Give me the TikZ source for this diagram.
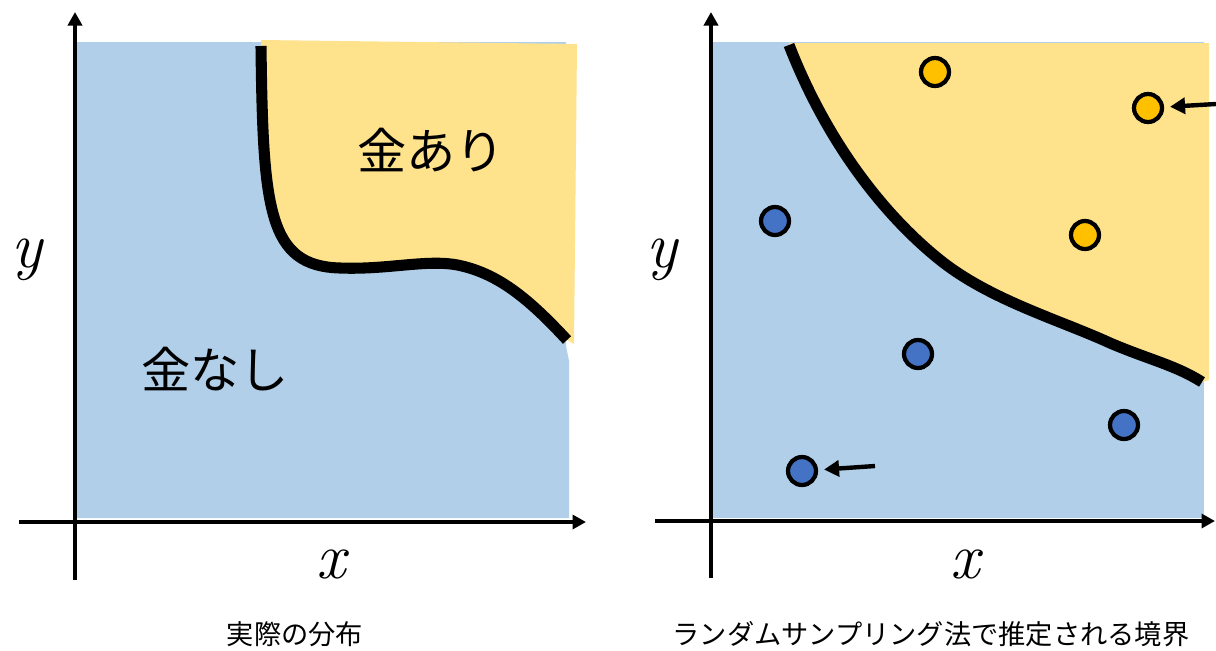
\documentclass[tikz,border=0pt]{standalone}
\usepackage{fontspec}
\newfontfamily\jpfont{Noto Sans CJK JP}
\usepackage{xcolor}
\definecolor{skyfill}{RGB}{178,207,233}
\definecolor{sandfill}{RGB}{255,226,140}
\definecolor{gold}{RGB}{255,192,0}
\definecolor{cobalt}{RGB}{68,114,196}
\usepackage{tikz}
\usetikzlibrary{arrows.meta}
%% boundary curves, reused for fill and stroke
\newcommand\realbnd{(261,46) .. controls (263,210) and (268,266) .. (340,268)
  .. controls (390,270) and (430,258) .. (462,266)
  .. controls (500,275) and (530,300) .. (567,340)}
\newcommand\guessbnd{(789,45) .. controls (830,150) and (890,220) .. (940,260)
  .. controls (990,300) and (1060,320) .. (1110,343)
  .. controls (1150,360) and (1175,365) .. (1202,382)}
\tikzset{
  %% axes and boundaries
  axisline/.style={line width=2.3pt, -{Triangle[length=0.27cm,width=0.28cm]}},
  border/.style={line width=6.3pt},
  %% samples and pointers
  sample/.style={circle, draw=black, line width=2.4pt, minimum size=0.56cm, inner sep=0pt},
  pointer/.style={line width=2.5pt, -{Triangle[length=0.3cm,width=0.32cm]}, shorten >=0.12cm},
  %% text
  region/.style={font=\jpfont\fontsize{28}{32}\selectfont},
  axlabel/.style={font=\fontsize{37}{42}\selectfont\itshape},
  caption/.style={font=\jpfont\fontsize{15.5}{18}\selectfont},
}

\begin{document}
\begin{tikzpicture}[x=0.02cm,y=-0.02cm]
\useasboundingbox (0,0) rectangle (1216,650);

% left: actual distribution
\fill[skyfill] (77,42) -- (566,42) -- (566,346) -- (569,361) -- (569,518) -- (77,518) -- cycle;
\fill[sandfill] \realbnd -- (574,344) -- (577,44) -- (261,40) -- cycle;
\draw[border] \realbnd;
\draw[axisline] (19,522) -- (586,522);
\draw[axisline] (75,580) -- (75,12);
\node[region] (gold) at (431,150) {金あり};
\node[region] (nogold) at (215,369) {金なし};
\node[axlabel] (xL) at (331,564) {x};
\node[axlabel] (yL) at (27,260) {y};
\node[caption] (capL) at (295,634) {実際の分布};

% right: boundary from random sampling
\fill[skyfill] (713,42) rectangle (1204,518);
\fill[sandfill] \guessbnd -- (1209,380) -- (1209,43) -- (789,43) -- cycle;
\draw[border] \guessbnd;
\draw[axisline] (655,521) -- (1215,521);
\draw[axisline] (711,578) -- (711,12);
\node[axlabel] (xR) at (965,564) {x};
\node[axlabel] (yR) at (662,260) {y};
\node[caption] (capR) at (931,634) {ランダムサンプリング法で推定される境界};

\node[sample, fill=gold] (g1) at (935,72) {};
\node[sample, fill=gold] (g2) at (1148,108) {};
\node[sample, fill=gold] (g3) at (1085,235) {};
\node[sample, fill=cobalt] (b1) at (775,221) {};
\node[sample, fill=cobalt] (b2) at (918,354) {};
\node[sample, fill=cobalt] (b3) at (1124,425) {};
\node[sample, fill=cobalt] (b4) at (802,471) {};

\coordinate (gtail) at (1216,104);
\coordinate (btail) at (875,466);
\draw[pointer] (gtail) -- (g2);
\draw[pointer] (btail) -- (b4);
\end{tikzpicture}
\end{document}
